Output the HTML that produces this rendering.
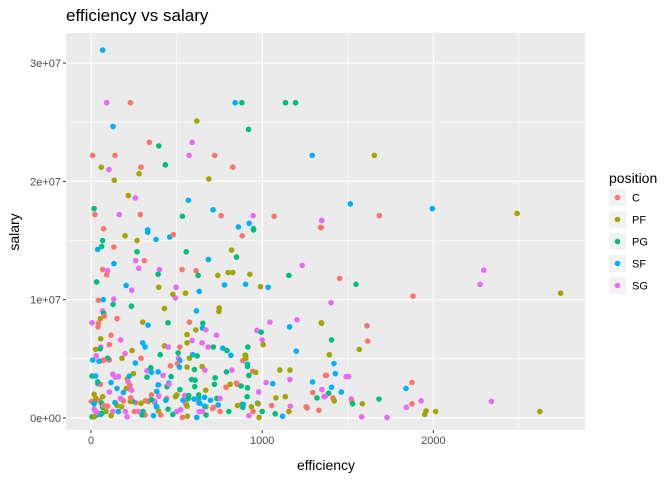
<!DOCTYPE html>
<html><head><meta charset="utf-8"><style>
body{margin:0;background:#fff;}
svg{display:block;font-family:"Liberation Sans",sans-serif;}
</style></head><body>
<svg id="chart" width="672" height="480" xmlns="http://www.w3.org/2000/svg">
<text x="66" y="21" font-size="17" fill="#000">efficiency vs salary</text>
<rect x="66" y="33" width="519" height="397" fill="#EBEBEB"/>
<g id="grid"></g><g id="points"></g><g id="axes"></g>
<text x="326" y="470" font-size="14" text-anchor="middle" fill="#000">efficiency</text>
<text transform="translate(19,232) rotate(-90)" font-size="14" text-anchor="middle" fill="#000">salary</text>
<g id="legend">
<text x="609" y="183" font-size="14" fill="#000">position</text>
</g>
</svg>
<script>
const xTicks=[0,1000,2000];
const xMinor=[500,1500,2500];
const yTicks=[0,10,20,30];
const yTickLabels=["0e+00","1e+07","2e+07","3e+07"];
const yMinor=[5,15,25];
const positions=["C","PF","PG","SF","SG"];
const colors={C:"#F8766D",PF:"#A3A500",PG:"#00BF7D",SF:"#00B0F6",SG:"#E76BF3"};
const efficiency=[68,92,230,842,881,1136,1195,618,129,920,341,396,591,10,140,573,723,1292,60,105,292,434,828,281,136,688,218,259,569,18,23,165,288,713,760,534,947,1070,1347,924,861,74,331,949,1341,
1655,1515,1994,1684,2489,1349,1345,2294,2273,1452,1548,1881,2743,1402,1347,1612,1405,1616,1392,1567,1419,1427,1376,1491,1505,1875,1840,1405,1462,1349,1388,1368,1413,1421,1520,1524,1528,1585,1682,1928,1875,1842,2339,1957,1949,2013,2622,1581,1729,
199,269,331,380,460,481,883,949,68,62,39,134,269,556,821,850,686,261,312,279,134,68,97,92,400,392,532,614,626,741,801,828,928,1156,1234,33,205,238,396,497,478,493,552,632,780,903,990,1035,43,72,133,129,236,429,616,749,747,68,74,55,78,152,6,43,41,302,333,450,575,653,651,612,671,1045,1203,1160,1345,969,994,561,733,117,57,173,107,591,649,561,302,316,1000,1006,429,450,519,684,715,916,57,53,27,240,770,794,817,903,1199,31,68,107,97,76,10,47,199,181,292,404,259,509,511,519,575,594,620,505,517,561,604,649,665,464,887,900,904,914,914,944,962,922,791,823,1103,1162,1162,1370,1294,6,27,127,142,160,212,224,248,327,353,392,349,421,327,468,117,41,55,39,216,206,226,189,152,228,587,789,854,850,877,813,384,444,454,456,396,392,519,606,721,725,608,914,912,980,1023,1062,1296,1320,1361,1080,1135,1055,1076,1119,1156,1164,1257,1331,1263,922,947,982,1000,973,937,977,856,881,887,889,805,754,743,735,717,672,672,698,670,754,628,618,651,556,552,561,563,547,571,534,524,538,501,493,569,602,635,629,663,629,442,450,478,437,407,365,384,394,372,353,396,368,335,351,318,304,316,298,292,277,261,253,244,230,232,238,211,201,189,160,152,179,172,140,127,97,117,88,68,33,6,18,39,21,2,18,18,18,29,51,62,68,25,58,74,107,64,501,382,711,663,632];
const salaryM=[31.1,26.65,26.65,26.65,26.65,26.65,26.65,25.1,24.65,24.4,23.3,23.0,23.3,22.2,22.2,22.2,22.2,22.2,21.2,21.0,21.2,21.4,21.2,20.65,20.1,20.2,18.8,18.6,18.4,17.7,17.2,17.2,17.2,17.6,17.1,17.05,17.1,17.05,16.7,16.45,16.15,16.0,15.9,16.0,16.1,
22.2,18.1,17.7,17.1,17.3,16.7,16.1,12.5,11.3,11.8,11.3,10.3,10.55,9.75,8.0,7.8,6.6,6.5,5.35,5.8,4.6,3.75,3.6,3.5,3.5,3.0,2.5,2.6,2.2,2.4,2.1,1.85,1.7,1.45,1.6,1.4,1.2,1.2,1.6,1.45,1.2,0.9,1.4,0.6,0.3,0.55,0.55,0.1,0.05,
15.4,15.0,15.7,15.1,15.3,15.5,15.4,15.9,15.0,14.5,14.25,14.45,14.05,14.05,14.2,13.6,13.4,13.3,13.3,12.65,13.05,12.55,12.45,12.1,12.55,12.15,12.55,12.45,12.05,12.05,12.3,12.3,12.15,12.05,12.9,11.5,11.2,10.8,11.05,11.05,10.45,10.15,10.55,10.7,11.25,11.3,11.1,11.05,9.95,10.0,10.05,9.6,9.45,9.25,9.05,9.3,9.0,9.05,8.85,8.4,8.6,8.4,8.05,8.0,7.7,8.1,7.85,8.05,8.1,8.0,7.6,7.45,7.45,8.1,8.3,7.7,8.05,7.4,7.25,7.05,7.0,7.0,6.7,6.6,6.2,6.55,6.35,6.35,6.35,6.0,6.6,6.2,6.1,6.0,6.0,6.0,6.0,6.0,6.0,5.85,5.8,5.7,5.9,5.7,5.3,5.3,5.65,5.25,4.85,4.9,5.05,4.9,4.9,4.8,5.45,5.05,5.05,5.35,4.65,5.5,5.05,4.85,5.05,5.35,5.25,4.6,4.3,4.3,4.1,4.35,4.05,4.4,4.85,5.3,5.05,4.55,4.35,3.95,3.85,3.6,3.9,4.05,4.05,4.05,3.25,3.6,3.05,3.55,3.55,3.7,3.45,3.5,3.3,3.55,3.75,4.0,3.85,3.9,4.25,3.6,3.45,3.5,3.0,2.9,2.85,3.05,3.05,2.5,2.45,2.15,2.5,2.75,3.25,2.6,2.85,2.95,2.7,2.85,2.25,2.65,2.95,2.85,2.8,2.8,2.4,2.65,2.85,3.4,3.2,2.55,1.8,2.2,3.0,2.9,2.15,1.7,1.8,1.7,1.8,1.05,0.35,0.15,0.55,1.0,0.95,0.65,0.85,0.2,0.55,0.05,0.55,1.25,0.95,1.2,1.05,1.15,0.9,1.15,0.55,0.55,1.1,1.65,0.9,0.95,0.25,1.5,2.35,1.65,1.3,0.05,0.55,1.15,1.3,1.0,0.15,1.9,1.9,0.05,0.7,1.5,1.95,1.8,1.65,1.6,1.25,1.65,1.75,1.95,1.65,0.75,0.3,1.5,0.25,0.2,0.95,0.6,1.35,1.95,1.85,1.45,1.4,1.55,1.45,0.55,0.25,0.25,1.25,0.55,1.3,0.55,1.4,1.4,1.7,2.35,0.1,0.55,1.45,0.55,1.05,0.95,1.65,1.3,0.55,1.0,0.2,0.55,0.9,0.25,0.1,0.1,0.45,1.4,1.4,1.2,0.75,2.0,1.65,1.45,1.25,1.8,0.6,0.3,1.05,2.2,0.4,0.55,0.95,0.8,1.0,0.55];
const position=["SF","SG","C","SF","PG","PG","PG","PF","SF","PG","C","PG","SG","C","C","SG","C","SF","PF","SG","C","PG","C","PF","PF","PF","PF","SG","SF","PG","C","SG","C","SF","C","PG","SG","C","SG","SF","SF","C","SF","PG","C",
"PF","SF","SF","C","PF","SG","C","SG","SG","C","PG","C","PF","SG","PF","C","PG","C","PF","PF","SF","SF","C","SG","SG","C","SF","SF","SF","SG","PG","SG","C","PF","SG","C","PG","PF","PG","SG","C","SG","SG","PF","PF","PF","PF","SG","SG",
"PF","PF","SF","SF","SF","C","C","PG","PG","PG","SF","C","PG","PG","PF","PG","SF","SG","C","SG","SF","C","SG","C","SG","PG","C","C","PG","PF","PF","PF","PF","PG","SG","PG","SF","SG","PF","SG","PF","SG","PF","SF","SF","SF","PF","SF","C","SF","SG","PG","PG","PF","SF","PF","PF","SG","PG","PF","C","C","SG","C","C","PF","SF","PG","C","PG","SF","PF","SG","SG","SG","SF","PF","SG","PG","PF","SG","C","PF","SG","C","SG","SG","PF","SF","SF","SG","PF","PF","SG","C","SG","PG","PG","SG","PG","PF","PF","SF","PG","SF","PG","SF","SG","C","C","PG","C","SF","SF","SG","PF","C","PG","SF","PG","SG","SF","PF","SF","PG","C","SF","PF","PG","PF","SG","C","C","PF","PF","SF","PG","C","PF","PG","PG","SG","PF","PF","SG","C","SF","PG","SF","SG","SG","SG","PF","SF","PF","SG","SF","SF","PG","SG","PG","PG","SF","SF","C","PG","SG","PF","C","SF","SF","C","PG","C","C","C","PG","PF","SF","PG","SF","SG","SG","SF","PG","PG","PG","PG","PG","PG","PG","SG","SG","SF","C","PG","SG","PF","PF","C","PG","SF","PF","SG","C","C","C","SG","C","PF","PG","SF","PF","PF","PF","PF","PG","SF","PG","C","SF","PG","C","PF","PG","SF","PF","SG","C","SF","SG","PG","C","PF","PF","SG","PG","C","SG","SF","PF","PF","PG","SF","SF","SF","SF","PG","C","PG","PG","SF","C","SF","PG","PF","SF","C","SG","SG","PF","PG","C","PG","C","PG","PF","SG","C","C","SF","PF","C","SG","SG","SG","C","SF","PF","PF","SG","SF","SG","C","PF","PF","PG","PG","PG","PF","SG","SF","C","SF","SG","PF","PF","C","PG","PF","SG","SF","C","SG","PG","SG","SF","C","SF","SG"];

const NS="http://www.w3.org/2000/svg";
const X0=66,X1=585,Y0=33,Y1=430;
function xs(v){return 91+v*0.1712;}
function ys(v){return 418-v*11.83;}
function mk(tag,attrs,parent){const e=document.createElementNS(NS,tag);for(const k in attrs)e.setAttribute(k,attrs[k]);parent.appendChild(e);return e;}
const grid=document.getElementById('grid');
yMinor.forEach(v=>{const l=mk('line',{x1:X0,x2:X1,y1:ys(v),y2:ys(v),stroke:'#fff','stroke-width':0.6},grid);

});
xMinor.forEach(v=>{const l=mk('line',{x1:xs(v),x2:xs(v),y1:Y0,y2:Y1,stroke:'#fff','stroke-width':0.6},grid);

});
yTicks.forEach(v=>{const l=mk('line',{x1:X0,x2:X1,y1:ys(v),y2:ys(v),stroke:'#fff','stroke-width':1.2},grid);

});
xTicks.forEach(v=>{const l=mk('line',{x1:xs(v),x2:xs(v),y1:Y0,y2:Y1,stroke:'#fff','stroke-width':1.2},grid);

});
const axes=document.getElementById('axes');
yTicks.forEach((v,i)=>{const t=mk('line',{x1:X0-3,x2:X0,y1:ys(v),y2:ys(v),stroke:'#333','stroke-width':1},axes);


const tx=mk('text',{x:X0-5,y:ys(v)+4,'font-size':11,'text-anchor':'end',fill:'#4D4D4D'},axes);tx.textContent=yTickLabels[i];

});
xTicks.forEach(v=>{const t=mk('line',{x1:xs(v),x2:xs(v),y1:Y1,y2:Y1+3,stroke:'#333','stroke-width':1},axes);


const tx=mk('text',{x:xs(v),y:Y1+14,'font-size':11,'text-anchor':'middle',fill:'#4D4D4D'},axes);tx.textContent=String(v);

});
const pts=document.getElementById('points');
efficiency.forEach((e,i)=>{const c=mk('circle',{cx:xs(e),cy:ys(salaryM[i]),r:2.8,fill:colors[position[i]]},pts);

});
const lg=document.getElementById('legend');
positions.forEach((p,i)=>{const y=189+i*22;
const r=mk('rect',{x:609,y:y,width:17,height:17,fill:'#F2F2F2'},lg);


const c=mk('circle',{cx:617.5,cy:y+8.5,r:2.8,fill:colors[p]},lg);


const t=mk('text',{x:632,y:y+12.5,'font-size':11,fill:'#000'},lg);t.textContent=p;

});
</script>
</body></html>
